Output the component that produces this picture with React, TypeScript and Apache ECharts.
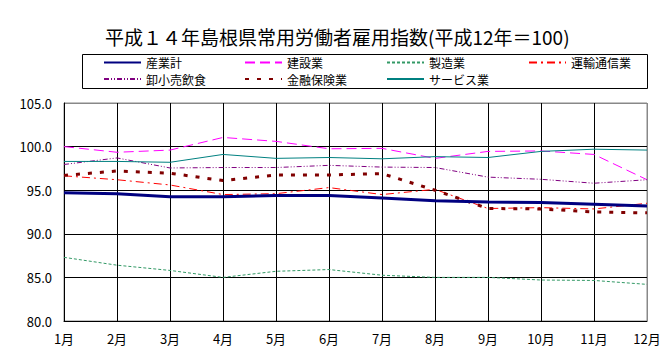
import React, { useEffect, useRef } from "react";
import * as echarts from "echarts";

const months = ["1月", "2月", "3月", "4月", "5月", "6月", "7月", "8月", "9月", "10月", "11月", "12月"];
const sangyokei = [94.7, 94.6, 94.25, 94.25, 94.4, 94.4, 94.1, 93.8, 93.65, 93.6, 93.4, 93.2];
const kensetsu = [100.0, 99.35, 99.6, 101.05, 100.6, 99.75, 99.8, 98.65, 99.45, 99.5, 99.1, 96.2];
const seizo = [87.3, 86.4, 85.8, 85.0, 85.7, 85.9, 85.25, 85.0, 85.0, 84.7, 84.65, 84.2];
const unyu = [96.65, 96.2, 95.6, 94.5, 94.6, 95.3, 94.5, 95.1, 92.9, 93.0, 92.85, 93.5];
const oroshi = [97.95, 98.7, 97.55, 97.6, 97.6, 97.85, 97.65, 97.6, 96.5, 96.25, 95.8, 96.2];
const kinyu = [96.7, 97.2, 96.95, 96.1, 96.75, 96.75, 96.9, 95.0, 92.9, 92.85, 92.5, 92.4];
const service = [98.3, 98.3, 98.2, 99.1, 98.65, 98.75, 98.6, 98.85, 98.75, 99.45, 99.7, 99.6];
const seriesNames = ["産業計", "建設業", "製造業", "運輸通信業", "卸小売飲食", "金融保険業", "サービス業"];
const yTicks = [80, 105, 5];

const FONT = "'Noto Sans CJK JP', sans-serif";

export default function App() {
  const ref = useRef<HTMLDivElement>(null);
  useEffect(() => {
    if (!ref.current) return;
    const chart = echarts.init(ref.current, null, { renderer: "svg" });
    const mk = (name: string, data: number[], color: string, width: number, type: any, z = 2) => ({
      name,
      type: "line",
      data,
      symbol: "none",
      showSymbol: false,
      z,
      lineStyle: { color, width, type, cap: "butt" },
      itemStyle: { color },
    });
    const legendPos = [
      [103, 56], [244, 56], [386, 56], [528, 56],
      [103, 72.5], [244, 72.5], [386, 72.5],
    ];
    const legends = seriesNames.map((n, i) => ({
      orient: "horizontal",
      left: legendPos[i][0],
      top: legendPos[i][1],
      padding: 0,
      itemWidth: 37,
      itemHeight: 12,
      itemStyle: { opacity: 0 },
      textStyle: { fontSize: 12, lineHeight: 13, color: "#000", fontFamily: FONT },
      data: [n],
    }));
    chart.setOption({
      animation: false,
      title: {
        text: "平成１４年島根県常用労働者雇用指数(平成12年＝100)",
        left: 100,
        top: 22,
        textStyle: { fontSize: 19, fontWeight: "normal", color: "#000", fontFamily: FONT },
      },
      legend: legends,
      graphic: [
        {
          type: "rect",
          shape: { x: 82.5, y: 54.5, width: 565, height: 34 },
          style: { fill: "none", stroke: "#000", lineWidth: 1 },
        },
      ],
      grid: {
        left: 64,
        top: 103,
        right: 23,
        bottom: 33,
        show: true,
        borderColor: "#888",
        borderWidth: 1,
      },
      xAxis: {
        type: "category",
        data: months,
        boundaryGap: false,
        axisLine: { lineStyle: { color: "#000", width: 1 } },
        axisTick: { show: false },
        axisLabel: { fontSize: 13, color: "#000", fontFamily: FONT, margin: 11 },
        splitLine: {
          show: true,
          lineStyle: { color: ["#000", "#000", "#000", "#000", "#000", "#000", "#000", "#000", "#000", "#000", "#000", "#888"], width: 1 },
        },
      },
      yAxis: {
        type: "value",
        min: yTicks[0],
        max: yTicks[1],
        interval: yTicks[2],
        axisLine: { show: true, lineStyle: { color: "#000", width: 1 } },
        axisTick: { show: false },
        axisLabel: { fontSize: 13, color: "#000", fontFamily: FONT, margin: 12, formatter: (v: number) => v.toFixed(1) },
        splitLine: { show: true, lineStyle: { color: ["#000", "#000", "#000", "#000", "#000", "#888"], width: 1 } },
      },
      series: [
        mk(seriesNames[0], sangyokei, "#000080", 3, "solid", 5),
        mk(seriesNames[1], kensetsu, "#ff00ff", 1, [10, 5]),
        mk(seriesNames[2], seizo, "#339966", 1, [3, 2]),
        mk(seriesNames[3], unyu, "#ff0000", 1, [8, 4, 2, 4]),
        mk(seriesNames[4], oroshi, "#800080", 1, [5, 2, 1, 2, 1, 2]),
        mk(seriesNames[5], kinyu, "#800000", 3, [4, 8], 4),
        mk(seriesNames[6], service, "#008080", 1, "solid"),
      ],
    });
    return () => chart.dispose();
  }, []);
  return <div ref={ref} style={{ width: 670, height: 354, position: "absolute", left: 0, top: 0 }} />;
}
